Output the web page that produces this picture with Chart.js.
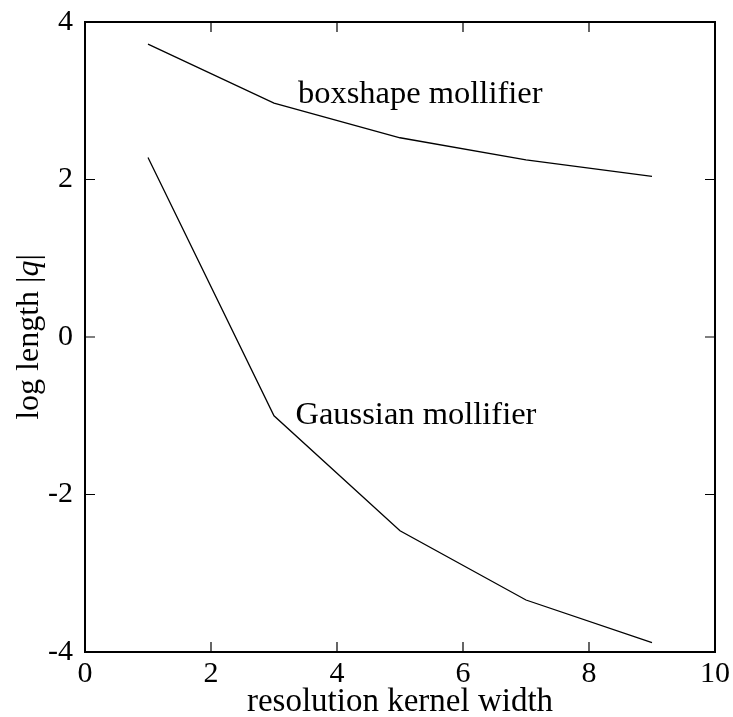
<!DOCTYPE html>
<html>
<head>
<meta charset="utf-8">
<script src="https://cdn.jsdelivr.net/npm/chart.js@4/dist/chart.umd.min.js"></script>
<style>
  html, body { margin: 0; padding: 0; background: #ffffff; }
  #wrap { width: 733px; height: 717px; }
</style>
</head>
<body>
<div id="wrap"><canvas id="c" width="733" height="717"></canvas></div>
<script>
// ---- data ----
const kernelWidths = [1, 3, 5, 7, 9];
const boxshapeValues = [3.72, 2.97, 2.53, 2.25, 2.04];
const gaussianValues = [2.28, -1.00, -2.46, -3.34, -3.88];
const xTickValues = [0, 2, 4, 6, 8, 10];
const yTickValues = [-4, -2, 0, 2, 4];
const seriesNames = ['boxshape mollifier', 'Gaussian mollifier'];
const xTitle = 'resolution kernel width';

// label anchors (data coordinates)
const labelAnchors = [
  { text: seriesNames[0], x: 3.38, y: 2.97 },
  { text: seriesNames[1], x: 3.34, y: -1.10 }
];

const SERIF = '"Liberation Serif", "Times New Roman", serif';

const framePlugin = {
  id: 'frame',
  afterDraw(chart) {
    const { ctx, chartArea: a, scales } = chart;
    const xs = scales.x, ys = scales.y;
    ctx.save();
    ctx.strokeStyle = '#000';
    ctx.lineWidth = 1.2;
    const L = 10;
    ctx.beginPath();
    xTickValues.forEach(v => {
      const px = xs.getPixelForValue(v);
      ctx.moveTo(px, a.bottom); ctx.lineTo(px, a.bottom - L);
      ctx.moveTo(px, a.top); ctx.lineTo(px, a.top + L);
    });
    yTickValues.forEach(v => {
      const py = ys.getPixelForValue(v);
      ctx.moveTo(a.left, py); ctx.lineTo(a.left + L, py);
      ctx.moveTo(a.right, py); ctx.lineTo(a.right - L, py);
    });
    ctx.stroke();
    ctx.lineWidth = 2;
    ctx.strokeRect(a.left, a.top, a.right - a.left, a.bottom - a.top);

    ctx.fillStyle = '#000';
    ctx.font = '32.5px ' + SERIF;
    ctx.textAlign = 'left';
    ctx.textBaseline = 'alphabetic';
    labelAnchors.forEach(l => {
      ctx.fillText(l.text, xs.getPixelForValue(l.x), ys.getPixelForValue(l.y));
    });

    ctx.font = '33px ' + SERIF;
    ctx.textAlign = 'center';
    ctx.fillText(xTitle, (a.left + a.right) / 2, 711);

    const parts = [
      { t: 'log length |', f: '32px ' + SERIF },
      { t: 'q', f: 'italic 32px ' + SERIF },
      { t: '|', f: '32px ' + SERIF }
    ];
    let total = 0;
    parts.forEach(p => { ctx.font = p.f; p.w = ctx.measureText(p.t).width; total += p.w; });
    ctx.translate(38, (a.top + a.bottom) / 2);
    ctx.rotate(-Math.PI / 2);
    ctx.textAlign = 'left';
    let cx = -total / 2;
    parts.forEach(p => { ctx.font = p.f; ctx.fillText(p.t, cx, 0); cx += p.w; });
    ctx.restore();
  }
};

new Chart(document.getElementById('c'), {
  type: 'line',
  data: {
    datasets: [
      {
        label: seriesNames[0],
        data: kernelWidths.map((x, i) => ({ x, y: boxshapeValues[i] })),
        borderColor: '#000', borderWidth: 1.3, pointRadius: 0, fill: false, tension: 0
      },
      {
        label: seriesNames[1],
        data: kernelWidths.map((x, i) => ({ x, y: gaussianValues[i] })),
        borderColor: '#000', borderWidth: 1.3, pointRadius: 0, fill: false, tension: 0
      }
    ]
  },
  options: {
    responsive: false,
    animation: false,
    devicePixelRatio: 1,
    layout: { padding: { top: 22, right: 18, left: 0, bottom: 0 } },
    plugins: { legend: { display: false }, tooltip: { enabled: false } },
    scales: {
      x: {
        type: 'linear', min: 0, max: 10,
        afterBuildTicks(s) { s.ticks = xTickValues.map(v => ({ value: v })); },
        afterFit(s) { s.height = 65; s.paddingLeft = 0; s.paddingRight = 0; },
        grid: { display: false, drawTicks: false },
        border: { display: false },
        ticks: { color: '#000', font: { family: SERIF, size: 30 }, padding: 4, maxRotation: 0 }
      },
      y: {
        type: 'linear', min: -4, max: 4,
        afterBuildTicks(s) { s.ticks = yTickValues.map(v => ({ value: v })); },
        afterFit(s) { s.width = 85; s.paddingTop = 0; s.paddingBottom = 0; },
        grid: { display: false, drawTicks: false },
        border: { display: false },
        ticks: { color: '#000', font: { family: SERIF, size: 30 }, padding: 12 }
      }
    }
  },
  plugins: [framePlugin]
});
</script>
</body>
</html>
